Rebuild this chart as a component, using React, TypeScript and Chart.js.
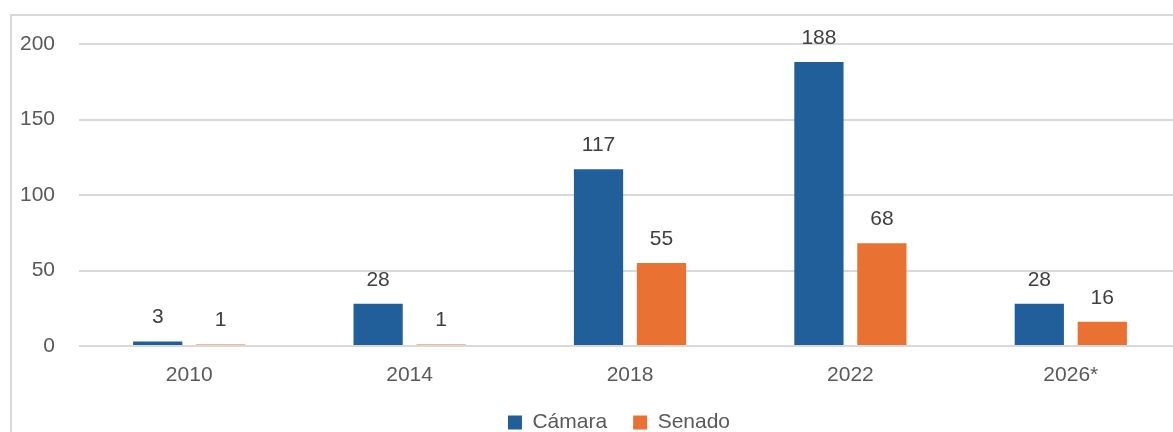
import React, { useEffect, useRef } from "react";
import { Chart, registerables } from "chart.js";

Chart.register(...registerables);

const categories = ["2010", "2014", "2018", "2022", "2026*"];
const camara = [3, 28, 117, 188, 28];
const senado = [1, 1, 55, 68, 16];
const seriesNames = ["Cámara", "Senado"];
const yTicks = [0, 50, 100, 150, 200];

const FONT = "'Liberation Sans', Arial, sans-serif";
const CANVAS_W = 1238;
const CANVAS_H = 443;

const dataLabelPlugin = {
  id: "dataLabels",
  afterDatasetsDraw(chart: any) {
    const ctx = chart.ctx;
    ctx.save();
    ctx.font = `21px ${FONT}`;
    ctx.fillStyle = "#404040";
    ctx.textAlign = "center";
    ctx.textBaseline = "alphabetic";
    chart.data.datasets.forEach((ds: any, i: number) => {
      const meta = chart.getDatasetMeta(i);
      meta.data.forEach((bar: any, j: number) => {
        ctx.fillText(String(ds.data[j]), bar.x, bar.y - 18);
      });
    });
    ctx.restore();
  },
};

export default function App() {
  const ref = useRef<HTMLCanvasElement | null>(null);
  useEffect(() => {
    if (!ref.current) return;
    const chart = new Chart(ref.current, {
      type: "bar",
      data: {
        labels: categories,
        datasets: [
          {
            label: seriesNames[0],
            data: camara,
            backgroundColor: "#215F9A",
            categoryPercentage: 0.5714,
            barPercentage: 0.782,
          },
          {
            label: seriesNames[1],
            data: senado,
            backgroundColor: "#E97132",
            categoryPercentage: 0.5714,
            barPercentage: 0.782,
          },
        ],
      },
      options: {
        responsive: false,
        animation: false,
        layout: { padding: { top: 44, left: 0, right: 0, bottom: 0 } },
        plugins: {
          tooltip: { enabled: false },
          legend: {
            position: "bottom",
            labels: {
              boxWidth: 14,
              boxHeight: 14,
              padding: 26,
              color: "#595959",
              font: { family: FONT, size: 21 },
            },
          },
        },
        scales: {
          x: {
            afterFit: (s: any) => {
              s.height = 40;
            },
            grid: { display: false, drawTicks: false },
            border: { display: false },
            ticks: {
              color: "#595959",
              font: { family: FONT, size: 21 },
              padding: 17,
            },
          },
          y: {
            min: 0,
            max: 200,
            afterBuildTicks: (s: any) => {
              s.ticks = yTicks.map((v) => ({ value: v }));
            },
            afterFit: (s: any) => {
              s.width = 79;
            },
            grid: { color: "#d9d9d9", lineWidth: 2, drawTicks: false },
            border: { display: false },
            ticks: {
              color: "#595959",
              font: { family: FONT, size: 21 },
              padding: 24,
            },
          },
          y2: {
            position: "right",
            display: true,
            afterFit: (s: any) => {
              s.width = 57;
            },
            grid: { display: false, drawTicks: false },
            border: { display: false },
            ticks: { display: false },
          },
        },
      },
      plugins: [dataLabelPlugin],
    });
    return () => chart.destroy();
  }, []);

  return (
    <div style={{ position: "fixed", inset: 0, overflow: "hidden", background: "#fff" }}>
      <div
        style={{
          position: "absolute",
          left: 10,
          top: 14,
          width: 1300,
          height: 600,
          border: "2px solid #d9d9d9",
          boxSizing: "border-box",
        }}
      />
      <canvas
        ref={ref}
        width={CANVAS_W}
        height={CANVAS_H}
        style={{ position: "absolute", left: 0, top: 0, width: CANVAS_W, height: CANVAS_H }}
      />
    </div>
  );
}
